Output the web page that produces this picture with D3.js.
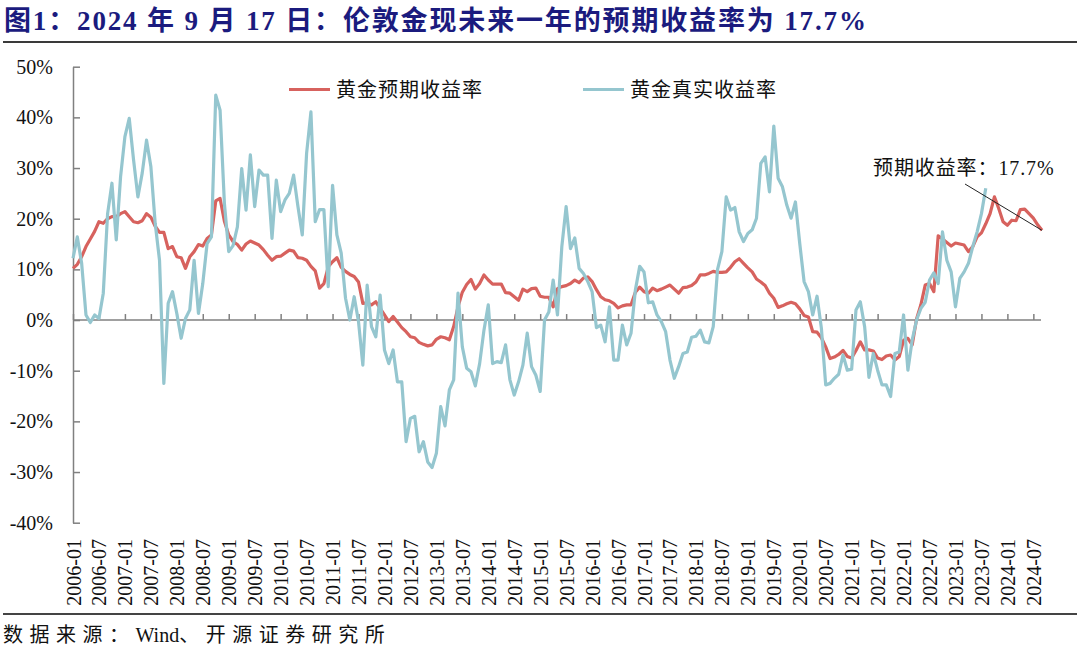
<!DOCTYPE html>
<html>
<head>
<meta charset="utf-8">
<script src="https://cdn.jsdelivr.net/npm/d3@7/dist/d3.min.js"></script>
<style>
  html, body { margin: 0; padding: 0; background: #fff; }
  svg { display: block; }
  text { font-family: "Liberation Serif", "Noto Sans CJK SC", serif; }
</style>
</head>
<body>
<svg id="chart" width="1080" height="651"></svg>
<script>
// ---- data (monthly, starting 2006-01) ----
const startYear = 2006;
const startMonth = 1;
const seriesNames = ["黄金预期收益率", "黄金真实收益率"];
const expectedReturn = [
  10.2, 11.0, 12.5, 14.5, 16.0, 17.5, 19.4, 19.1, 20.0, 20.4,
  20.4, 21.0, 21.4, 20.4, 19.4, 19.2, 19.6, 21.0, 20.3, 18.5,
  17.3, 17.3, 14.1, 14.5, 12.5, 12.3, 10.2, 12.5, 13.5, 14.9,
  14.6, 16.1, 16.8, 23.5, 24.0, 19.5, 16.8, 15.5, 14.9, 13.8,
  15.0, 15.6, 15.2, 14.8, 13.9, 12.8, 11.8, 12.5, 12.6, 13.2,
  13.8, 13.6, 12.3, 12.2, 11.8, 10.6, 9.7, 6.3, 7.2, 10.5,
  11.5, 12.3, 10.4, 9.6, 9.0, 8.6, 7.5, 3.3, 3.4, 3.0,
  3.6, 2.3, 1.0, -0.3, 0.7, -0.4, -1.5, -2.3, -3.3, -3.5,
  -4.4, -4.8, -5.1, -4.9, -3.8, -3.3, -3.5, -3.9, -1.3, 2.6,
  5.5, 7.0, 8.0, 6.1, 7.2, 8.9, 7.9, 7.1, 7.1, 7.1,
  5.4, 5.3, 4.6, 3.9, 6.1, 5.6, 6.2, 6.3, 4.7, 4.5,
  4.5, 2.6, 6.2, 6.6, 6.8, 7.2, 7.9, 7.4, 8.3, 8.5,
  7.6, 6.0, 4.6, 4.0, 3.8, 3.3, 2.4, 2.8, 3.0, 3.0,
  5.5, 6.5, 5.6, 5.3, 6.3, 5.8, 6.1, 6.5, 6.9, 6.1,
  5.3, 6.4, 6.5, 6.8, 7.5, 8.9, 8.9, 9.2, 9.6, 9.4,
  9.4, 9.5, 10.4, 11.5, 12.1, 11.2, 10.3, 9.5, 8.1, 7.5,
  6.8, 5.3, 4.3, 2.5, 2.8, 3.2, 3.5, 3.2, 2.2, 0.9,
  0.6, -2.3, -2.4, -3.5, -5.3, -7.6, -7.3, -6.8, -6.0, -7.2,
  -7.5, -6.0, -4.3, -5.9, -5.9, -6.1, -7.5, -7.8, -7.1, -6.9,
  -7.9, -7.2, -4.0, -3.6, -4.9, 0.2, 3.0, 6.9, 7.2, 5.6,
  16.6, 16.0, 15.3, 14.6, 15.2, 15.0, 14.8, 13.5, 14.5, 16.4,
  17.2, 19.0, 21.0, 24.3, 22.0, 19.4, 18.7, 19.7, 19.6, 21.8,
  21.9, 21.0, 20.1, 18.8, 17.7
];
const realReturn = [
  12.2, 16.4, 11.2, 1.0, -0.5, 1.0, 0.3, 5.3, 21.0, 27.0,
  15.8, 28.3, 36.2, 39.8, 31.6, 24.3, 29.0, 35.5, 30.3, 19.1,
  11.8, -12.5, 3.3, 5.6, 1.3, -3.6, 0.3, 2.0, 11.8, 1.3,
  7.2, 15.1, 16.4, 44.4, 41.4, 23.0, 13.5, 14.7, 18.4, 29.9,
  21.7, 32.6, 22.4, 29.6, 28.6, 28.6, 16.1, 27.6, 21.4, 23.7,
  25.0, 28.6, 22.4, 16.8, 32.9, 41.1, 19.4, 21.8, 21.8, 6.6,
  26.6, 16.8, 13.2, 4.3, 0.0, 4.6, -0.3, -8.9, 6.9, -1.3,
  -3.3, 4.9, -5.9, -8.6, -5.9, -12.2, -12.2, -24.0, -19.4, -19.0,
  -26.0, -24.0, -28.0, -29.1, -26.3, -17.1, -20.9, -13.8, -11.8, 5.3,
  -5.3, -9.5, -10.2, -13.0, -8.6, -2.0, 3.0, -8.6, -8.2, -8.4,
  -4.9, -11.8, -14.8, -12.2, -8.9, -2.6, -9.2, -10.9, -14.1, 0.0,
  1.6, 7.9, 1.0, 14.5, 22.4, 14.1, 16.2, 10.2, 9.2, 7.6,
  5.6, -1.5, -1.0, -4.3, 2.6, -7.9, -7.9, -1.0, -4.9, -2.6,
  5.9, 10.6, 9.5, 3.4, 3.6, 1.0, -0.3, -2.3, -7.9, -11.5,
  -9.2, -6.6, -6.3, -3.4, -3.2, -2.0, -4.3, -4.5, -1.3, 10.0,
  13.5, 24.3, 21.7, 22.2, 17.4, 15.5, 17.1, 17.8, 20.1, 30.9,
  32.2, 25.3, 38.3, 28.0, 26.3, 22.7, 20.1, 23.3, 15.1, 7.6,
  5.6, 1.0, 4.7, -1.6, -12.8, -12.5, -11.5, -10.7, -6.9, -9.9,
  -9.7, 2.0, 3.6, -1.3, -11.3, -6.6, -9.9, -12.8, -12.8, -15.1,
  -6.6, -6.3, 1.0, -9.9, -3.9, 0.0, 2.3, 3.5, 7.9, 9.3,
  7.2, 17.4, 11.8, 9.5, 2.6, 8.2, 9.5, 11.2, 14.5, 17.4,
  21.0, 26.0
];
const yTicks = [-40, -30, -20, -10, 0, 10, 20, 30, 40, 50];
const titleText = "图1：2024 年 9 月 17 日：伦敦金现未来一年的预期收益率为 17.7%";
const sourceParts = ["数据来源：", "Wind", "、开源证券研究所"];
const annotationText = "预期收益率：17.7%";

// ---- layout ----
const svg = d3.select("#chart");
const colors = ["#D7625E", "#95C6CF"];

function monthLabel(i) {
  const total = (startMonth - 1) + i;
  const yy = startYear + Math.floor(total / 12);
  const mm = (total % 12) + 1;
  return yy + "-" + (mm < 10 ? "0" + mm : mm);
}

const x = d3.scaleLinear().domain([0, expectedReturn.length - 1]).range([73, 1042]);
const y = d3.scaleLinear().domain([-40, 50]).range([522.7, 66.7]);

// title
svg.append("text")
  .attr("x", 4).attr("y", 30)
  .attr("font-size", 27).attr("font-weight", "bold")
  .attr("fill", "#1B1B7E")
  .attr("letter-spacing", 1.85)
  .text(titleText);
svg.append("line").attr("x1", 3).attr("x2", 1077).attr("y1", 42).attr("y2", 42)
  .attr("stroke", "#3a3a3a").attr("stroke-width", 2.2);

// y axis
const yAxis = d3.axisLeft(y).tickValues(yTicks).tickSizeInner(-7).tickSizeOuter(0)
  .tickPadding(20).tickFormat(d => d + "%");
const gy = svg.append("g").attr("transform", "translate(73,0)").call(yAxis);
gy.select(".domain").attr("stroke", "#808080").attr("stroke-width", 1.5);
gy.selectAll(".tick line").attr("stroke", "#808080").attr("stroke-width", 1.5);
gy.selectAll(".tick text").attr("font-size", 20).attr("fill", "#111")
  .attr("font-family", "Liberation Serif");

// x axis at 0%
const tickIdx = d3.range(0, expectedReturn.length, 6);
const xAxisTop = d3.axisTop(x).tickValues(tickIdx).tickSizeInner(6).tickSizeOuter(0).tickFormat("");
const gx = svg.append("g").attr("transform", `translate(0,${y(0)})`).call(xAxisTop);
gx.select(".domain").attr("stroke", "#808080").attr("stroke-width", 1.5)
  .attr("d", `M73,0H1041`);
gx.selectAll(".tick line").attr("stroke", "#808080").attr("stroke-width", 1.5);

// x labels (bottom)
const xAxisLabels = d3.axisBottom(x).tickValues(tickIdx).tickSize(0).tickFormat(monthLabel);
const gxl = svg.append("g").attr("transform", "translate(0,539)").call(xAxisLabels);
gxl.select(".domain").remove();
gxl.selectAll(".tick text")
  .attr("font-size", 20).attr("fill", "#111").attr("font-family", "Liberation Serif")
  .attr("text-anchor", "end").attr("dy", "0.35em").attr("y", 0)
  .attr("transform", "rotate(-90)").attr("x", 0);

// lines
const line = d3.line().x((d, i) => x(i)).y(d => y(d));
svg.append("path").datum(expectedReturn).attr("d", line)
  .attr("fill", "none").attr("stroke", colors[0]).attr("stroke-width", 3.2).attr("stroke-linejoin", "round");
svg.append("path").datum(realReturn).attr("d", line)
  .attr("fill", "none").attr("stroke", colors[1]).attr("stroke-width", 3.2).attr("stroke-linejoin", "round");

// legend
const legendX = [289, 583];
seriesNames.forEach((name, k) => {
  svg.append("line").attr("x1", legendX[k]).attr("x2", legendX[k] + 41)
    .attr("y1", 89.5).attr("y2", 89.5).attr("stroke", colors[k]).attr("stroke-width", 3);
  svg.append("text").attr("x", legendX[k] + 47).attr("y", 96.5)
    .attr("font-size", 20).attr("fill", "#111")
    .attr("textLength", 146).attr("lengthAdjust", "spacing")
    .text(name);
});

// annotation
const lastI = expectedReturn.length - 1;
svg.append("line").attr("x1", 965).attr("y1", 184)
  .attr("x2", x(lastI)).attr("y2", y(expectedReturn[lastI]))
  .attr("stroke", "#222").attr("stroke-width", 1);
svg.append("text").attr("x", 873).attr("y", 175)
  .attr("font-size", 20).attr("fill", "#111")
  .attr("letter-spacing", 0.9)
  .text(annotationText);

// bottom rule and source
svg.append("line").attr("x1", 3).attr("x2", 1077).attr("y1", 614).attr("y2", 614)
  .attr("stroke", "#444").attr("stroke-width", 1.8);
const src = svg.append("text").attr("x", 3).attr("y", 642)
  .attr("font-size", 20).attr("fill", "#111");
src.append("tspan").attr("letter-spacing", 6.5).text(sourceParts[0]);
src.append("tspan").attr("letter-spacing", 0).text(sourceParts[1]);
src.append("tspan").attr("letter-spacing", 6.5).text(sourceParts[2]);
</script>
</body>
</html>
